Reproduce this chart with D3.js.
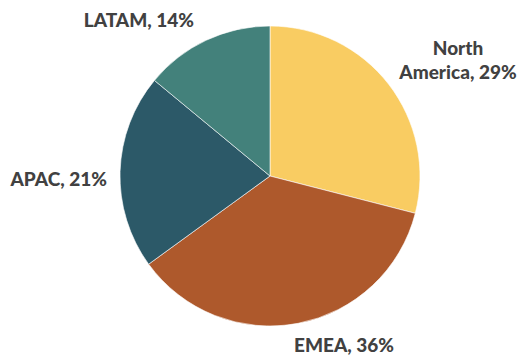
<!DOCTYPE html>
<html><head><meta charset="utf-8">
<script src="https://cdn.jsdelivr.net/npm/d3@7"></script>
<style>
html,body{margin:0;padding:0;background:#fff;}
svg{display:block;}
text{font-family:Lato,"Open Sans",sans-serif;font-weight:900;fill:#414141;}
</style></head>
<body>
<svg id="chart" width="526" height="357"></svg>
<script>
const categories = ["North America", "EMEA", "APAC", "LATAM"];
const values = [29, 36, 21, 14];
const colors = ["#F9CC62", "#AE592C", "#2C5968", "#43817B"];

const svg = d3.select("#chart");
const cx = 270, cy = 176, r = 150;
const g = svg.append("g").attr("transform", `translate(${cx},${cy})`);

const pie = d3.pie().sort(null).value(d => d.v);
const data = categories.map((c, i) => ({c, v: values[i], col: colors[i]}));
const arcs = pie(data);
const arc = d3.arc().innerRadius(0).outerRadius(r);

g.selectAll("path").data(arcs).join("path")
  .attr("d", arc)
  .attr("fill", d => d.data.col)
  .attr("stroke", "#fff")
  .attr("stroke-width", 0.6);

// label layout
const fs = 19;
arcs.forEach((d, i) => {
  const a = (d.startAngle + d.endAngle) / 2;
  const s = Math.sin(a), c = Math.cos(a);
  const label = `${d.data.c}, ${d.data.v}%`;
  const t = g.append("text").attr("font-size", fs);
  if (s > 0.5) {
    const x = 188, y0 = -121;
    const words = d.data.c.split(" ");
    t.attr("text-anchor", "middle");
    t.append("tspan").attr("x", x).attr("y", y0).text(words[0]);
    t.append("tspan").attr("x", x).attr("y", y0 + 24).text(words.slice(1).join(" ") + `, ${d.data.v}%`);
  } else if (s > 0.1) {
    t.attr("text-anchor", "middle").attr("x", 74).attr("y", 176).text(label);
  } else if (c < 0.5) {
    t.attr("text-anchor", "end").attr("x", -163).attr("y", 10).text(label);
  } else {
    t.attr("text-anchor", "end").attr("x", -76).attr("y", -149).text(label);
  }
});
</script>
</body></html>
